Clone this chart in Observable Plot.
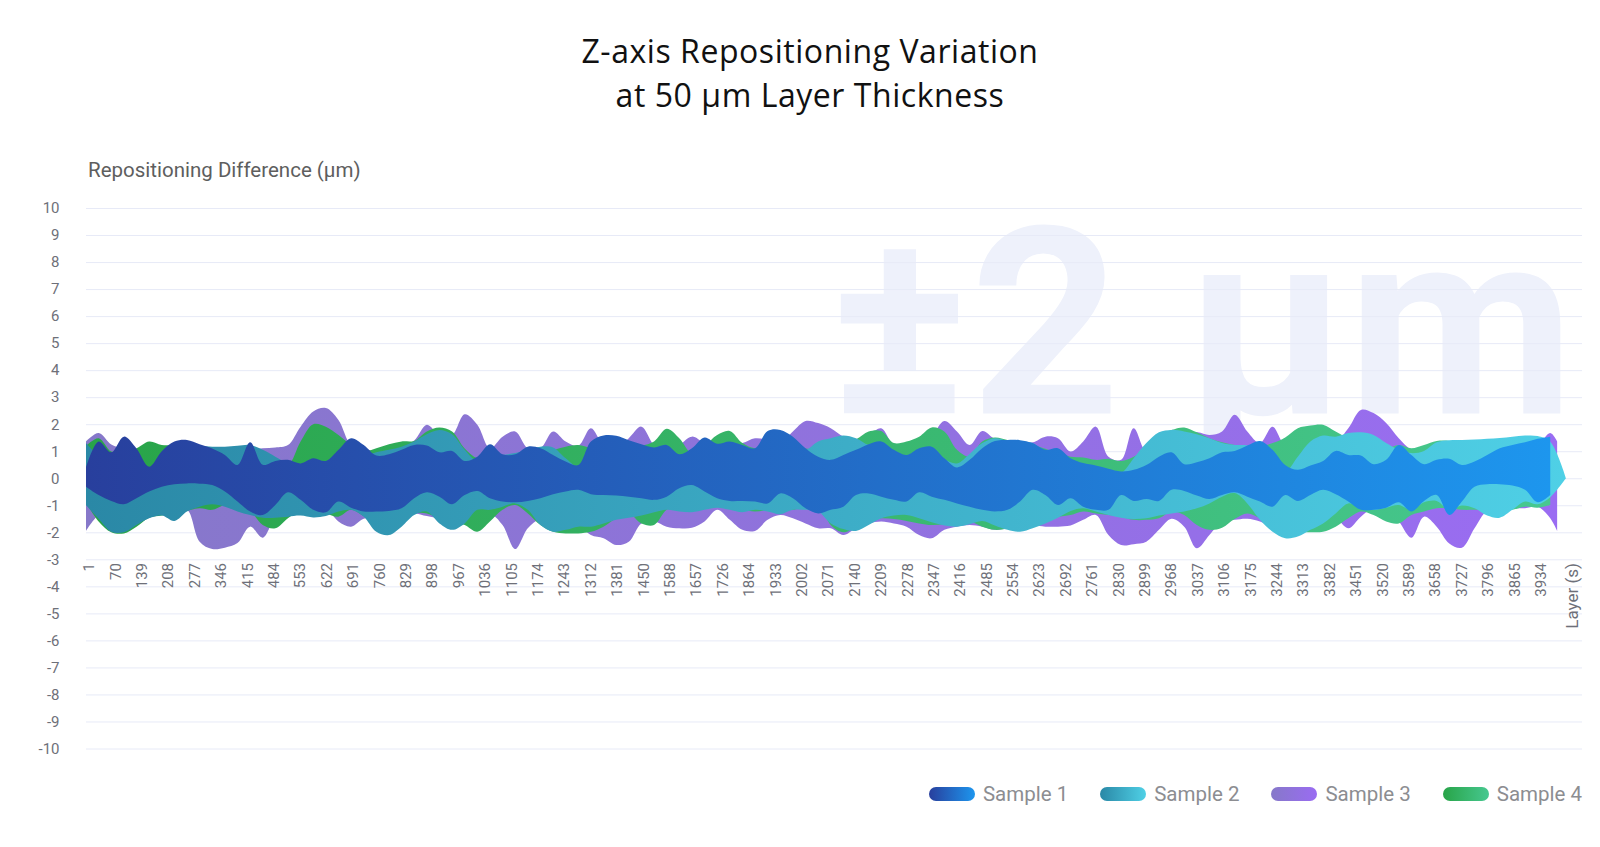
<!DOCTYPE html>
<html>
<head>
<meta charset="utf-8">
<script src="https://cdn.jsdelivr.net/npm/d3@7"></script>
<script src="https://cdn.jsdelivr.net/npm/@observablehq/plot@0.6"></script>
<style>
  html, body { margin: 0; padding: 0; background: #fff; }
  #wrap { position: relative; width: 1600px; height: 847px; overflow: hidden; }
  #chart { position: absolute; left: 0; top: 0; }
  #title { position: absolute; left: 10px; top: 29px; width: 1600px; text-align: center;
           font-family: "Open Sans", "Noto Sans", sans-serif; font-size: 32px; letter-spacing: 0.55px;
           line-height: 44px; color: #111; }
  #yname { position: absolute; left: 88px; top: 158px; font-family: Roboto, sans-serif; font-size: 20.5px;
           color: #5e5e5e; white-space: nowrap; }
  #legend { position: absolute; right: 18px; top: 782px; display: flex; align-items: center;
            font-family: Roboto, sans-serif; font-size: 20.5px; color: #8c8d91; }
  .item { display: flex; align-items: center; margin-left: 32px; }
  .sw { width: 46px; height: 14px; border-radius: 7px; margin-right: 8px; }
</style>
</head>
<body>
<div id="wrap">
  <div id="chart"></div>
  <div id="title">Z-axis Repositioning Variation<br>at 50 µm Layer Thickness</div>
  <div id="yname">Repositioning Difference (µm)</div>
  <div id="legend"></div>
</div>
<script>
// ---------- data ----------
const seriesNames = ["Sample 1", "Sample 2", "Sample 3", "Sample 4"];
const STEP = 33;                 // category step between stored points
const xDomainMax = 3911;         // last category index on the axis
const endIndex = [3828, 3869, 3846, 3828];

const xTickLabels = [1, 70, 139, 208, 277, 346, 415, 484, 553, 622, 691, 760, 829, 898, 967, 1036, 1105, 1174,
  1243, 1312, 1381, 1450, 1588, 1657, 1726, 1864, 1933, 2002, 2071, 2140, 2209, 2278, 2347, 2416, 2485, 2554,
  2623, 2692, 2761, 2830, 2899, 2968, 3037, 3106, 3175, 3244, 3313, 3382, 3451, 3520, 3589, 3658, 3727, 3796,
  3865, 3934];
const xTickInterval = 69;
const yTicks = [-10, -9, -8, -7, -6, -5, -4, -3, -2, -1, 0, 1, 2, 3, 4, 5, 6, 7, 8, 9, 10];
const watermark = "±2 µm";

const s1Upper = [
  0.40, 1.36, 0.96, 1.54, 1.10, 0.43, 1.00, 1.36, 1.42, 1.26, 1.10, 0.86, 0.49, 1.33, 0.50, 0.64, 0.68, 0.55, 0.74, 0.64,
  1.05, 1.48, 1.23, 0.84, 0.89, 1.05, 1.23, 1.21, 0.96, 1.01, 0.64, 0.80, 1.26, 0.89, 0.89, 1.17, 1.11, 0.86, 0.62, 0.49,
  1.36, 1.58, 1.57, 1.41, 1.26, 1.14, 1.23, 0.89, 1.11, 1.51, 1.28, 1.36, 1.23, 1.11, 1.75, 1.79, 1.54, 1.11, 0.80,
  0.68, 0.86, 1.05, 1.26, 1.36, 1.05, 0.86, 1.11, 1.17, 0.74, 0.40, 0.68, 1.11, 1.38, 1.42, 1.41, 1.30, 1.05, 1.11, 0.74,
  0.56, 0.47, 0.35, 0.25, 0.31, 0.49, 0.80, 0.96, 0.52, 0.59, 0.74, 0.96, 1.01, 1.21, 1.38, 1.05, 0.49, 0.31, 0.47, 0.64,
  1.01, 0.86, 0.84, 0.52, 0.68, 1.23, 0.86, 0.52, 0.68, 0.72, 0.49, 0.62, 0.86, 1.11, 1.23, 1.33, 1.46, 1.54
];
const s1Lower = [
  -0.31, -0.62, -0.84, -0.96, -0.74, -0.49, -0.31, -0.22, -0.19, -0.20, -0.25, -0.49, -0.86, -1.23, -1.36, -0.99, -0.52, -0.80, -1.17, -1.26,
  -0.86, -1.09, -1.23, -1.23, -1.21, -1.11, -0.74, -0.52, -0.68, -0.96, -0.62, -0.47, -0.74, -0.86, -0.89, -0.84, -0.74, -0.59, -0.49, -0.43,
  -0.59, -0.62, -0.64, -0.68, -0.74, -0.80, -0.68, -0.37, -0.25, -0.49, -0.74, -0.84, -0.84, -0.86, -0.93, -0.56, -0.74, -1.11, -1.30,
  -1.17, -1.05, -0.62, -0.56, -0.68, -0.80, -0.86, -0.52, -0.68, -0.80, -0.93, -1.05, -1.17, -1.23, -1.17, -0.86, -0.43, -0.62, -0.99, -0.74,
  -1.05, -1.17, -1.17, -0.62, -0.84, -0.77, -0.84, -0.43, -0.47, -0.64, -0.77, -0.62, -0.52, -0.68, -0.86, -1.05, -0.62, -0.84, -0.62, -0.43,
  -0.59, -0.86, -1.17, -1.17, -1.09, -0.89, -1.23, -0.84, -0.62, -1.36, -0.86, -0.31, -0.22, -0.22, -0.27, -0.43, -0.89, -0.62
];
const s2Upper = [
  1.30, 0.80, 0.50, 0.35, 0.30, 0.25, 0.60, 1.00, 1.20, 1.20, 1.17, 1.17, 1.20, 1.23, 1.05, 0.80, 0.56, 0.43, 0.49, 0.55,
  0.62, 0.68, 0.80, 0.96, 1.05, 1.17, 1.36, 1.63, 1.79, 1.63, 1.05, 0.62, 0.74, 0.86, 0.93, 1.05, 1.17, 1.14, 0.74, 0.43,
  1.00, 1.20, 1.20, 1.20, 1.10, 1.00, 1.00, 0.80, 0.90, 1.10, 1.10, 1.10, 1.00, 1.00, 1.10, 1.20, 1.20, 1.05, 1.36,
  1.48, 1.58, 1.48, 1.23, 1.20, 1.00, 0.80, 0.90, 1.00, 0.70, 0.55, 0.90, 1.30, 1.48, 1.40, 1.35, 1.30, 1.00, 1.00, 0.70,
  0.50, 0.40, 0.30, 0.20, 0.74, 1.30, 1.70, 1.79, 1.73, 1.63, 1.48, 1.30, 1.23, 1.21, 0.93, 0.56, 0.25, 0.80, 1.36, 1.58,
  1.54, 1.67, 1.70, 1.60, 1.30, 1.05, 0.93, 1.01, 1.33, 1.41, 1.42, 1.43, 1.46, 1.49, 1.54, 1.58, 1.56, 1.35, 0.00
];
const s2Lower = [
  -1.00, -1.50, -1.98, -2.00, -1.73, -1.48, -1.38, -1.58, -1.23, -1.05, -0.96, -1.05, -1.23, -1.36, -1.46, -1.46, -1.42, -1.38, -1.45, -1.40,
  -1.23, -1.17, -1.42, -1.98, -2.10, -1.79, -1.36, -1.23, -1.67, -1.91, -1.67, -1.17, -1.17, -1.05, -0.93, -1.17, -1.73, -1.98, -1.91, -1.79,
  -1.79, -1.67, -1.54, -1.46, -1.38, -1.26, -1.17, -1.23, -1.26, -1.17, -1.09, -1.17, -1.26, -1.17, -1.23, -1.33, -1.17, -1.17, -1.23,
  -1.67, -1.88, -1.95, -1.73, -1.48, -1.38, -1.36, -1.48, -1.63, -1.75, -1.79, -1.70, -1.58, -1.75, -1.91, -1.98, -1.85, -1.67, -1.46, -1.21,
  -1.11, -1.23, -1.36, -1.46, -1.51, -1.48, -1.38, -1.30, -1.23, -1.11, -0.93, -0.68, -0.55, -0.93, -1.54, -1.98, -2.22, -2.16, -1.91, -1.67,
  -1.30, -0.93, -1.09, -1.17, -1.09, -0.99, -1.17, -0.89, -0.84, -1.17, -1.01, -1.11, -1.38, -1.46, -1.17, -0.86, -0.96, -0.70, 0.00
];
const s3Upper = [
  1.36, 1.67, 1.25, 1.10, 1.00, 0.90, 1.00, 1.10, 1.05, 1.00, 1.00, 0.95, 1.00, 1.05, 1.11, 1.14, 1.23, 1.91, 2.47, 2.60,
  2.16, 1.23, 1.10, 1.00, 1.10, 1.20, 1.40, 1.98, 1.60, 1.60, 2.37, 1.98, 1.11, 1.54, 1.73, 1.11, 1.11, 1.73, 1.36, 1.20,
  1.85, 1.23, 1.11, 1.48, 1.91, 1.23, 0.99, 1.23, 1.54, 1.30, 1.17, 1.23, 1.30, 1.48, 1.42, 1.30, 1.73, 2.12, 2.04,
  1.85, 1.54, 1.42, 1.60, 1.85, 1.23, 1.30, 1.48, 1.60, 2.12, 1.73, 1.23, 1.75, 1.46, 1.36, 1.36, 1.33, 1.54, 1.48, 0.99,
  1.36, 1.91, 0.80, 0.68, 1.85, 0.99, 1.23, 1.42, 1.48, 1.70, 1.60, 1.73, 2.35, 1.73, 1.30, 1.91, 1.23, 1.36, 1.60, 1.73,
  1.36, 1.85, 2.53, 2.41, 2.04, 1.48, 1.05, 0.93, 0.99, 1.00, 1.00, 1.00, 1.00, 1.00, 1.00, 1.00, 1.20, 1.67, 1.36
];
const s3Lower = [
  -1.95, -1.36, -1.20, -1.30, -1.40, -1.40, -1.30, -1.30, -1.17, -2.35, -2.62, -2.57, -2.40, -1.79, -2.20, -1.48, -1.30, -1.20, -1.10, -1.10,
  -1.60, -1.79, -1.50, -1.50, -1.50, -1.40, -1.30, -1.40, -1.50, -1.60, -1.50, -1.40, -1.30, -1.73, -2.62, -1.85, -1.50, -1.50, -1.60, -1.70,
  -2.10, -2.22, -2.47, -2.35, -1.67, -1.60, -1.79, -1.85, -1.83, -1.60, -1.17, -1.54, -1.91, -1.95, -1.54, -1.36, -1.48, -1.67, -1.85,
  -1.85, -2.10, -1.85, -1.67, -1.60, -1.67, -1.79, -2.10, -2.22, -1.91, -1.79, -1.73, -1.79, -1.91, -1.85, -1.79, -1.75, -1.79, -1.79, -1.75,
  -1.54, -1.36, -2.10, -2.47, -2.44, -2.35, -1.91, -1.50, -1.79, -2.59, -2.10, -1.60, -1.54, -1.50, -1.60, -1.85, -2.10, -1.98, -1.79, -1.67,
  -1.50, -1.85, -1.42, -1.11, -1.17, -1.60, -2.20, -1.42, -1.79, -2.41, -2.57, -1.85, -1.20, -1.11, -1.11, -1.11, -1.05, -1.48, -1.95
];
const s4Upper = [
  1.20, 1.48, 0.99, 1.00, 1.11, 1.36, 1.23, 1.20, 1.00, 0.80, 0.70, 0.60, 0.60, 0.60, 0.60, 0.60, 0.49, 1.36, 2.00, 1.91,
  1.60, 1.23, 0.99, 1.11, 1.26, 1.36, 1.38, 1.73, 1.88, 1.73, 1.10, 0.74, 0.74, 0.68, 0.74, 0.86, 0.99, 1.05, 1.17, 1.23,
  1.11, 0.93, 1.00, 1.10, 1.20, 1.36, 1.83, 1.48, 0.93, 1.20, 1.60, 1.75, 1.30, 1.11, 1.20, 1.30, 1.20, 1.10, 1.10,
  1.36, 1.30, 1.44, 1.73, 1.75, 1.30, 1.36, 1.54, 1.88, 1.73, 1.05, 0.80, 1.36, 1.51, 1.42, 1.33, 1.23, 1.09, 0.93, 0.80,
  0.77, 0.68, 0.72, 0.64, 0.80, 1.11, 1.60, 1.79, 1.88, 1.70, 1.48, 1.33, 1.23, 1.14, 1.17, 1.30, 1.51, 1.85, 1.95, 1.98,
  1.73, 1.48, 1.30, 1.20, 1.10, 1.23, 1.11, 1.23, 1.38, 1.38, 1.23, 1.30, 1.30, 1.30, 1.30, 1.30, 1.20, 1.00
];
const s4Lower = [
  -0.90, -1.60, -2.00, -2.04, -1.79, -1.46, -1.38, -1.30, -1.20, -1.11, -1.17, -0.99, -1.00, -1.20, -1.73, -1.85, -1.48, -1.20, -1.20, -1.30,
  -1.42, -1.17, -1.40, -1.60, -1.70, -1.50, -1.30, -1.30, -1.50, -1.60, -1.73, -1.98, -1.60, -1.17, -0.99, -1.30, -1.73, -1.98, -2.04, -2.04,
  -1.98, -1.79, -1.48, -1.30, -1.67, -1.73, -1.17, -1.00, -1.00, -1.05, -0.86, -1.11, -1.17, -1.23, -1.17, -1.05, -1.17, -0.99, -0.93,
  -1.73, -2.00, -1.79, -1.54, -1.48, -1.51, -1.58, -1.67, -1.73, -1.70, -1.67, -1.60, -1.79, -1.91, -1.85, -1.67, -1.54, -1.48, -1.42, -1.36,
  -1.23, -1.30, -1.36, -1.43, -1.54, -1.54, -1.48, -1.23, -1.36, -1.73, -1.91, -1.83, -1.51, -1.30, -1.48, -1.73, -1.91, -2.00, -2.00, -1.98,
  -1.79, -1.48, -1.23, -1.36, -1.60, -1.67, -1.36, -1.23, -1.11, -1.11, -1.17, -1.17, -1.17, -1.23, -1.17, -1.05, -1.09, -0.99
];

const gradientStops = [
  ["#283f9d", "#1d96ee"],
  ["#2a88a6", "#4fd0e6"],
  ["#8678c9", "#9a6cf2"],
  ["#28a448", "#47c890"]
];

// ---------- build ----------
const uppers = [s1Upper, s2Upper, s3Upper, s4Upper];
const lowers = [s1Lower, s2Lower, s3Lower, s4Lower];
const tables = uppers.map((up, s) => up.map((u, i) => ({
  x: i === up.length - 1 ? endIndex[s] : i * STEP,
  hi: u,
  lo: lowers[s][i]
})));

const xTickPos = xTickLabels.map((_, i) => i * xTickInterval);
const labelAt = new Map(xTickPos.map((p, i) => [p, String(xTickLabels[i])]));

const area = s => Plot.areaY(tables[s], {
  x: "x", y1: "lo", y2: "hi", curve: "catmull-rom", fill: `url(#grad${s})`
});

const chart = Plot.plot({
  width: 1600, height: 847,
  marginTop: 208, marginBottom: 98.5, marginLeft: 86, marginRight: 18,
  x: {domain: [0, xDomainMax]},
  y: {domain: [-10, 10]},
  style: {fontFamily: "Roboto, sans-serif", background: "transparent", overflow: "visible"},
  marks: [
    Plot.text([watermark], {frameAnchor: "top-right", textAnchor: "end", lineAnchor: "bottom",
      dx: -8, dy: 205, fontSize: 262, fontWeight: 700, fill: "#eef1fb", fontFamily: "Roboto, sans-serif"}),
    Plot.gridY(yTicks, {stroke: "#e7eaf7", strokeOpacity: 1, strokeWidth: 1}),
    area(2), area(3), area(1), area(0),
    Plot.axisY(yTicks, {tickSize: 0, tickPadding: 27, fontSize: 15, fill: "#6e7079", label: null,
      tickFormat: d => String(d)}),
    Plot.axisX(xTickPos, {tickFormat: d => labelAt.get(d), tickRotate: -90, tickSize: 0, tickPadding: 0,
      dx: 3, dy: -186, fontSize: 15, fill: "#6e7079", label: null}),
    Plot.text(["Layer (s)"], {frameAnchor: "bottom-right", rotate: -90, textAnchor: "end",
      dx: -5, dy: -186, fontSize: 17, fill: "#6e7079"})
  ]
});

const ns = "http://www.w3.org/2000/svg";
const defs = document.createElementNS(ns, "defs");
gradientStops.forEach(([a, b], i) => {
  const g = document.createElementNS(ns, "linearGradient");
  g.setAttribute("id", "grad" + i);
  g.setAttribute("x1", "0"); g.setAttribute("y1", "0");
  g.setAttribute("x2", "1"); g.setAttribute("y2", "0");
  [[0, a], [1, b]].forEach(([o, c]) => {
    const st = document.createElementNS(ns, "stop");
    st.setAttribute("offset", o);
    st.setAttribute("stop-color", c);
    g.appendChild(st);
  });
  defs.appendChild(g);
});
chart.insertBefore(defs, chart.firstChild);
document.getElementById("chart").appendChild(chart);

const legend = document.getElementById("legend");
seriesNames.forEach((name, i) => {
  const item = document.createElement("div");
  item.className = "item";
  if (i === 0) item.style.marginLeft = "0";
  const sw = document.createElement("div");
  sw.className = "sw";
  sw.style.background = `linear-gradient(to right, ${gradientStops[i][0]}, ${gradientStops[i][1]})`;
  const t = document.createElement("span");
  t.textContent = name;
  item.appendChild(sw); item.appendChild(t);
  legend.appendChild(item);
});
</script>
</body>
</html>
